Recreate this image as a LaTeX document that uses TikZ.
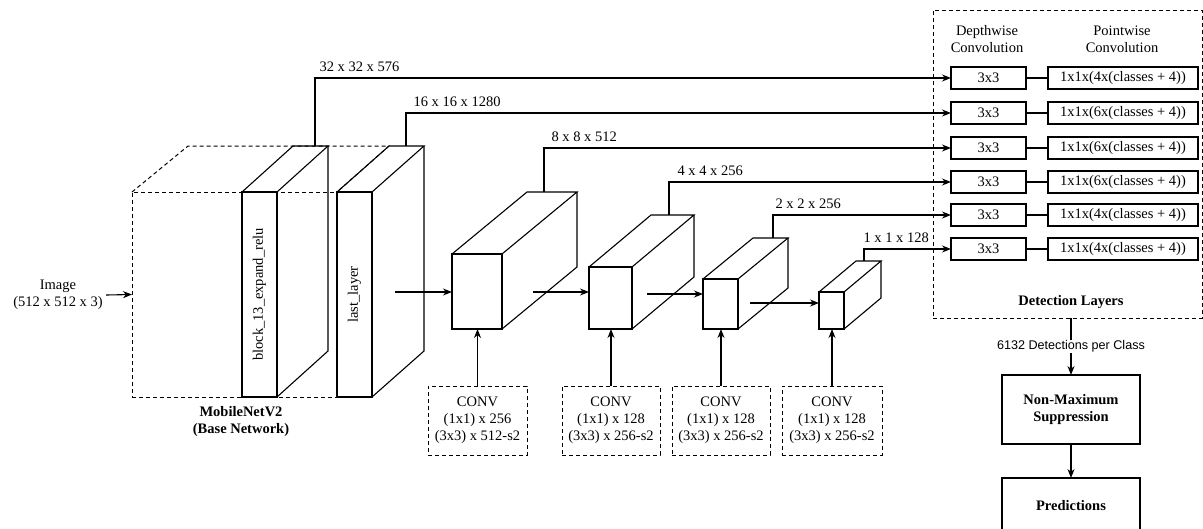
\documentclass[tikz,border=0pt]{standalone}
\usepackage{fontspec}
\setmainfont{Liberation Serif}
\newfontfamily\labelsans{Liberation Sans}
\usepackage{tikz}
\usetikzlibrary{arrows.meta, positioning, calc}
\newcommand{\diagfont}{\fontsize{14.5}{17}\selectfont}
% top and side faces of a cuboid whose front face is node #1
\newcommand{\slabdepth}[3]{%
  \draw[edge] (#1.north west) -- ++(#2,#3) -- ([shift={(#2,#3)}]#1.north east) -- (#1.north east);
  \draw[edge] ([shift={(#2,#3)}]#1.north east) -- ([shift={(#2,#3)}]#1.south east) -- (#1.south east);
}
\tikzset{
  edge/.style={line width=1.1pt, draw=black},
  arr/.style={edge, -{Stealth[length=9pt, width=7pt]}},
  dashline/.style={line width=1pt, dash pattern=on 4pt off 3pt},
  face/.style={draw, line width=1.1pt, fill=white, outer sep=0pt, inner sep=0pt},
  dashbox/.style={draw, dashline, outer sep=0pt, inner sep=0pt},
  convbox/.style={dashbox, align=center, minimum height=69pt},
  dwbox/.style={face, line width=1.3pt, minimum width=75pt, minimum height=22pt},
  pwbox/.style={face, line width=1.3pt, minimum width=150pt, minimum height=22pt},
  procbox/.style={face, line width=1.3pt, minimum width=138pt, align=center, font=\diagfont\bfseries},
  dimlabel/.style={anchor=south west, inner sep=0pt, xshift=4pt, yshift=6pt},
}

\begin{document}
\begin{tikzpicture}[x=1pt, y=-1pt, every node/.style={font=\diagfont}]
  \useasboundingbox (0,0) rectangle (1203,528);

  % input and base network
  \node[align=center] (img) at (58,295) {Image\\(512 x 512 x 3)};
  \node[dashbox, minimum width=205pt, minimum height=205pt] (base) at (234.5,294.5) {};
  \draw[dashline] (base.north west) -- ++(56,-46) -- ([shift={(52,-46)}]base.north east) -- (base.north east);
  \draw[arr] (img.east) -- (base.west);

  \node[face, minimum width=35pt, minimum height=205pt] (b13) at (259.5,294.5) {};
  \node[rotate=90] (b13txt) at (b13) {block\_13\_expand\_relu};
  \slabdepth{b13}{51}{-46}
  \node[face, minimum width=35pt, minimum height=205pt] (ll) at (354.5,294.5) {};
  \node[rotate=90] (lltxt) at (ll) {last\_layer};
  \slabdepth{ll}{52}{-46}
  \node[font=\diagfont\bfseries, align=center] (basetitle) at (241,421.5) {MobileNetV2\\(Base Network)};

  % extra feature layers
  \node[face, minimum width=50pt, minimum height=75pt] (b1) at (477,291.5) {};
  \slabdepth{b1}{75}{-62}
  \node[face, minimum width=43pt, minimum height=62pt] (b2) at (610.5,298) {};
  \slabdepth{b2}{62}{-52}
  \node[face, minimum width=35pt, minimum height=50pt] (b3) at (720.5,304) {};
  \slabdepth{b3}{50}{-41}
  \node[face, minimum width=25pt, minimum height=37pt] (b4) at (831.5,310.5) {};
  \slabdepth{b4}{37}{-31}

  \coordinate (o0) at (395,292);
  \coordinate (o1) at (533,292);
  \coordinate (o2) at (647,294);
  \coordinate (o3) at (750,303);
  \draw[arr] (o0) -- (o0 -| b1.west);
  \draw[arr] (o1) -- (o1 -| b2.west);
  \draw[arr] (o2) -- (o2 -| b3.west);
  \draw[arr] (o3) -- (o3 -| b4.west);

  \node[convbox, minimum width=99pt] (c1) at (477.5,420.5) {CONV\\(1x1) x 256\\(3x3) x 512-s2};
  \node[convbox, minimum width=98pt] (c2) at (611,420.5) {CONV\\(1x1) x 128\\(3x3) x 256-s2};
  \node[convbox, minimum width=98pt] (c3) at (721,420.5) {CONV\\(1x1) x 128\\(3x3) x 256-s2};
  \node[convbox, minimum width=100pt] (c4) at (832,420.5) {CONV\\(1x1) x 128\\(3x3) x 256-s2};
  \draw[arr] (c1.north) -- (c1.north |- b1.south);
  \draw[arr] (c2.north) -- (c2.north |- b2.south);
  \draw[arr] (c3.north) -- (c3.north |- b3.south);
  \draw[arr] (c4.north) -- (c4.north |- b4.south);

  % detection layers
  \node[dashbox, minimum width=269pt, minimum height=308pt] (det) at (1067.5,164) {};
  \node[align=center] (hdw) at (987,39) {Depthwise\\Convolution};
  \node[align=center] (hpw) at (1122,39) {Pointwise\\Convolution};
  \node[dwbox] (dw1) at (988.5,78) {3x3};
  \node[dwbox] (dw2) at (988.5,113) {3x3};
  \node[dwbox] (dw3) at (988.5,148) {3x3};
  \node[dwbox] (dw4) at (988.5,182) {3x3};
  \node[dwbox] (dw5) at (988.5,215) {3x3};
  \node[dwbox] (dw6) at (988.5,249) {3x3};
  \node[pwbox] (pw1) at (1123,78) {1x1x(4x(classes + 4))};
  \node[pwbox] (pw2) at (1123,113) {1x1x(6x(classes + 4))};
  \node[pwbox] (pw3) at (1123,148) {1x1x(6x(classes + 4))};
  \node[pwbox] (pw4) at (1123,182) {1x1x(6x(classes + 4))};
  \node[pwbox] (pw5) at (1123,215) {1x1x(4x(classes + 4))};
  \node[pwbox] (pw6) at (1123,249) {1x1x(4x(classes + 4))};
  \draw[edge] (dw1) -- (pw1);
  \draw[edge] (dw2) -- (pw2);
  \draw[edge] (dw3) -- (pw3);
  \draw[edge] (dw4) -- (pw4);
  \draw[edge] (dw5) -- (pw5);
  \draw[edge] (dw6) -- (pw6);
  \node[font=\diagfont\bfseries] (dettitle) at (1071,302) {Detection Layers};

  % feature maps to detection layers
  \coordinate (t1) at (315,146);
  \coordinate (t2) at (406,146);
  \coordinate (t3) at (544,192);
  \coordinate (t4) at (669,215);
  \coordinate (t5) at (773,238);
  \coordinate (t6) at (864,261);
  \draw[arr] (t1) |- node[dimlabel, pos=0.5] (d1) {32 x 32 x 576} (dw1.west);
  \draw[arr] (t2) |- node[dimlabel, pos=0.5, xshift=3pt] (d2) {16 x 16 x 1280} (dw2.west);
  \draw[arr] (t3) |- node[dimlabel, pos=0.5, xshift=3pt] (d3) {8 x 8 x 512} (dw3.west);
  \draw[arr] (t4) |- node[dimlabel, pos=0.5, xshift=4pt] (d4) {4 x 4 x 256} (dw4.west);
  \draw[arr] (t5) |- node[dimlabel, pos=0.5, xshift=-2pt] (d5) {2 x 2 x 256} (dw5.west);
  \draw[arr] (t6) |- node[dimlabel, pos=0.5, xshift=-5pt] (d6) {1 x 1 x 128} (dw6.west);

  % post-processing
  \node[procbox, minimum height=69pt] (nms) at (1071,409.5) {Non-Maximum\\Suppression};
  \node[procbox, minimum height=55pt] (pred) at (1071,505.5) {Predictions};
  \draw[arr] (det.south -| nms.north) -- node[fill=white, inner sep=1pt, font=\labelsans\fontsize{12.6}{14}\selectfont] (detcount) {6132 Detections per Class} (nms.north);
  \draw[arr] (nms) -- (pred);
\end{tikzpicture}
\end{document}
